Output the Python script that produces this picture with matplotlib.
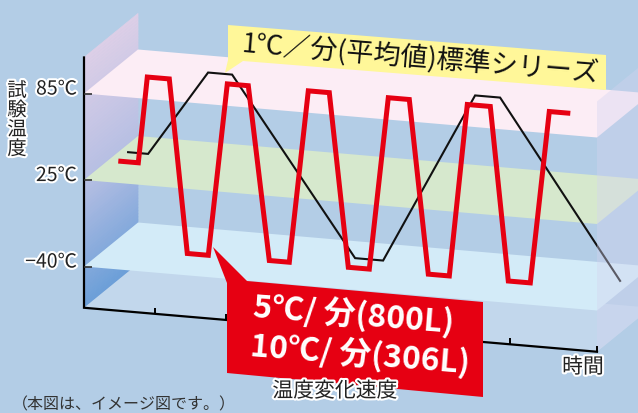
import numpy as np
import matplotlib
matplotlib.use('Agg')
import matplotlib.pyplot as plt
import matplotlib.patheffects as pe
from matplotlib.patches import Polygon
from matplotlib.collections import PolyCollection
from matplotlib.colors import LinearSegmentedColormap
from matplotlib.markers import TICKRIGHT, TICKUP
from matplotlib.transforms import Affine2D, IdentityTransform

plt.rcParams['font.family'] = ['Noto Sans CJK JP', 'DejaVu Sans']

# ---- data ---------------------------------------------------------------
levels = [85, 25, -40]                      # test temperatures (℃), one plane each
level_labels = ['85℃', '25℃', '−40℃']
plane_colors = ['#fcedf5', '#d6e8cd', '#d3ebf8']

t_end = 513                                 # length of the time axis (min)
time_ticks = [71, 142, 213, 284, 355, 426]
floor_temp = -71                            # baseline of the box
top_temp = 110                              # top of the vertical axis

# rapid cycling, 5-10℃/min
fast_t = [10, 30, 39, 61, 79, 100, 119, 140, 161, 181, 200, 221,
          240, 261, 280, 301, 320, 341, 359, 382, 400, 422, 441, 462]
fast_temp = [25, 25, 85, 85, -40, -40, 85, 85, -40, -40, 85, 85,
             -40, -40, 85, 85, -40, -40, 85, 85, -40, -40, 85, 85]
fast_depth = 0.45

# standard series, 1℃/min
slow_t = [9, 29, 89, 113, 236, 264, 356, 381, 501]
slow_temp = [25, 25, 85, 85, -40, -40, 85, 85, -40]
slow_depth = 0.65

# ---- figure / box geometry ---------------------------------------------
W, H = 638, 413
fig = plt.figure(figsize=(W / 100, H / 100), dpi=100, facecolor='#b3cde6')
ax = fig.add_axes([0, 0, 1, 1])
ax.axis('off')


# planes are evenly spaced even though the steps are 60℃ and 65℃
def fwd(T):
    T = np.asarray(T, dtype=float)
    return np.where(T > 25, 1 + (T - 25) / 60, 1 + (T - 25) / 65)


def inv(L):
    L = np.asarray(L, dtype=float)
    return np.where(L > 1, 25 + (L - 1) * 60, 25 + (L - 1) * 65)


ax.set_yscale('function', functions=(fwd, inv))
ax.set_xlim(-84, W - 84)
ax.set_ylim(float(inv(-(H - 266.5) / 86.5)), float(inv(266.5 / 86.5)))

# oblique projection: time axis sinks to the right, depth goes up-right
x0 = ax.transData.transform((0, 25))[0]
slope = 44 / 513
skew = Affine2D(np.array([[1, 0, 0], [-slope, 1, slope * x0], [0, 0, 1]]))
depth_vec = np.array([54.0, 44.0])


def box_tf(d):
    return ax.transData + skew + Affine2D().translate(*(depth_vec * d))


def proj(t, T, d):
    pts = np.column_stack([np.atleast_1d(t), np.atleast_1d(T)]).astype(float)
    return box_tf(d).transform(pts)


ident = IdentityTransform()
img = Affine2D().scale(1, -1).translate(0, H)   # image-pixel coordinates
halo = [pe.withStroke(linewidth=3, foreground='white')]

# left wall, vertical gradient
wall_cmap = LinearSegmentedColormap.from_list(
    'wall', ['#ddcfe7', '#b7bfe3', '#6c9fd8'])
ft, fb = proj(0, top_temp, 0)[0], proj(0, floor_temp, 0)[0]
bt, bb = proj(0, top_temp, 1)[0], proj(0, floor_temp, 1)[0]
n = 80
strips, cols = [], []
for i in range(n):
    f0, f1 = i / n, (i + 1) / n
    strips.append([ft + (fb - ft) * f0, ft + (fb - ft) * f1,
                   bt + (bb - bt) * f1, bt + (bb - bt) * f0])
    cols.append(wall_cmap((f0 + f1) / 2))
ax.add_collection(PolyCollection(strips, facecolors=cols, edgecolors=cols,
                                 linewidths=0.5, transform=ident, zorder=1))

# floor
floor = np.vstack([proj([0, t_end], [floor_temp] * 2, 0),
                   proj([t_end, 0], [floor_temp] * 2, 1)])
ax.add_patch(Polygon(floor, closed=True, transform=ident,
                     fc='#c2d7ec', ec='none', zorder=2))

# temperature planes
for T, c in zip(levels, plane_colors):
    verts = np.vstack([proj([0, t_end], [T, T], 0),
                       proj([t_end, 0], [T, T], 1)])
    ax.add_patch(Polygon(verts, closed=True, transform=ident,
                         fc=c, ec='none', zorder=3))

# temperature profiles
ax.plot(slow_t, slow_temp, color='#111111', lw=1.5, transform=box_tf(slow_depth),
        solid_joinstyle='miter', zorder=4)
ax.plot(fast_t, fast_temp, color='#e60012', lw=3.6, transform=box_tf(fast_depth),
        solid_joinstyle='miter', solid_capstyle='butt', zorder=5)

# right wall, translucent
rwall = np.vstack([proj([t_end, t_end], [floor_temp, top_temp], 0),
                   proj([t_end, t_end], [top_temp, floor_temp], 1)])
ax.add_patch(Polygon(rwall, closed=True, transform=ident,
                     fc='#d4d4f0', ec='none', alpha=0.38, zorder=6))

# axes
ax.plot([0, 0, t_end], [top_temp, floor_temp, floor_temp], color='black',
        lw=1.6, transform=box_tf(0), solid_joinstyle='miter', zorder=7)
ax.plot(time_ticks + [t_end], [floor_temp] * (len(time_ticks) + 1), ls='none',
        marker=TICKUP, ms=4.5, mew=1.4, color='black', transform=box_tf(0), zorder=7)
ax.plot([0] * len(levels), levels, ls='none', marker=TICKRIGHT, ms=6, mew=1.2,
        color='#333333', transform=box_tf(0), zorder=7)
for T, lab in zip(levels, level_labels):
    ax.annotate(lab, xy=(0, T), xycoords=box_tf(0), xytext=(-5, 3.2),
                textcoords='offset points', ha='right', va='center',
                fontsize=14, color='#222222', path_effects=halo, zorder=10)

ax.text(17, 120, '試\n験\n温\n度', transform=img, ha='center', va='center',
        fontsize=14, linespacing=0.9, color='#222222', path_effects=halo, zorder=10)
ax.text(335, 391, '温度変化速度', transform=img, ha='center', va='center',
        fontsize=15, color='#222222', path_effects=halo, zorder=10)
ax.text(583, 367, '時間', transform=img, ha='center', va='center',
        fontsize=15, color='#222222', path_effects=halo, zorder=10)
ax.text(12, 405, '（本図は、イメージ図です。）', transform=img, ha='left',
        va='center', fontsize=11.5, color='#333333', zorder=10)

# callout: standard series
yellow = [(228, 25), (606, 55), (606, 90), (243, 61), (225, 73), (228, 60)]
ax.add_patch(Polygon(yellow, closed=True, transform=img, fc='#fff799',
                     ec='none', zorder=8))
ax.text(420, 59, '1℃／分(平均値)標準シリーズ', transform=img, rotation=-4.7,
        rotation_mode='anchor', ha='center', va='center', fontsize=19.5,
        color='#111111', zorder=9)

# callout: rapid series
red = [(213, 247), (247, 281), (483, 302), (483, 397), (227, 373), (227, 283)]
ax.add_patch(Polygon(red, closed=True, transform=img, fc='#e60012',
                     ec='none', zorder=8))
ax.text(354, 315, '5℃/ 分(800L)', transform=img, rotation=-4.5,
        rotation_mode='anchor', ha='center', va='center', fontsize=23,
        fontweight='bold', color='white', zorder=9)
ax.text(360, 355, '10℃/ 分(306L)', transform=img, rotation=-4.5,
        rotation_mode='anchor', ha='center', va='center', fontsize=23,
        fontweight='bold', color='white', zorder=9)

fig.savefig('out.png', dpi=100, facecolor=fig.get_facecolor())
